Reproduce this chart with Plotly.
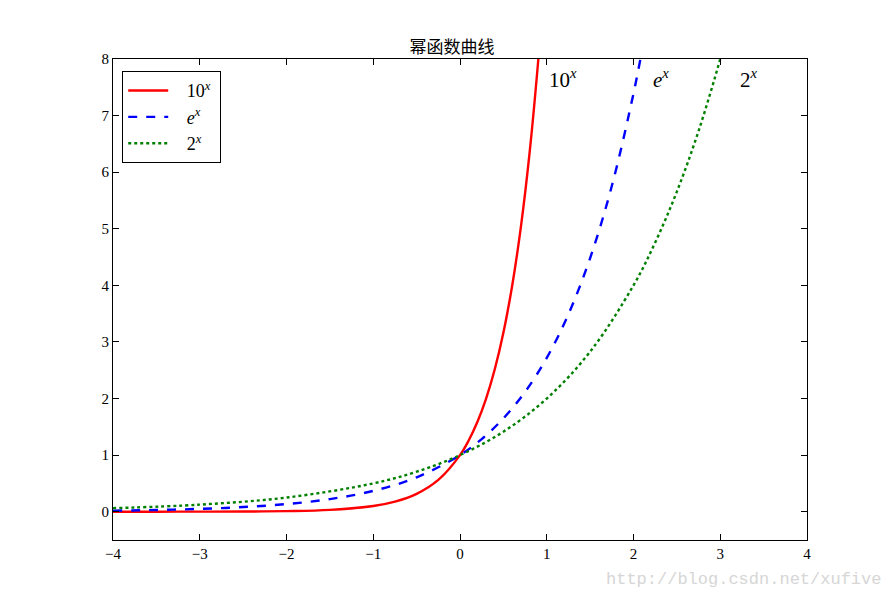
import plotly.graph_objects as go

# Values
x_10 = [-4, -3.5, -3, -2.5, -2, -1.5, -1, -0.75, -0.5, -0.25, 0, 0.1, 0.2, 0.3, 0.4, 0.5, 0.6, 0.7, 0.8, 0.9, 0.95]
y_10 = [0.0001, 0.0003, 0.001, 0.003, 0.01, 0.032, 0.1, 0.178, 0.316, 0.562, 1, 1.259, 1.585, 1.995, 2.512, 3.162, 3.981, 5.012, 6.310, 7.943, 8.913]

x_e = [-4, -3.5, -3, -2.5, -2, -1.5, -1, -0.5, 0, 0.25, 0.5, 0.75, 1, 1.25, 1.5, 1.75, 2, 2.1]
y_e = [0.018, 0.030, 0.050, 0.082, 0.135, 0.223, 0.368, 0.607, 1, 1.284, 1.649, 2.117, 2.718, 3.490, 4.482, 5.755, 7.389, 8.166]

x_2 = [-4, -3, -2, -1, -0.5, 0, 0.5, 1, 1.5, 2, 2.25, 2.5, 2.75, 3, 3.1]
y_2 = [0.0625, 0.125, 0.25, 0.5, 0.707, 1, 1.414, 2, 2.828, 4, 4.757, 5.657, 6.727, 8, 8.574]

series_names = ["10<sup><i>x</i></sup>", "<i>e</i><sup><i>x</i></sup>", "2<sup><i>x</i></sup>"]
label_x = [1.0, 2.2, 3.2]
label_y = [7.65, 7.65, 7.65]

title = "幂函数曲线"
watermark = "http://blog.csdn.net/xufive"

SERIF = "Liberation Serif, DejaVu Serif, serif"
PAD = "&nbsp;&nbsp;&nbsp;"

fig = go.Figure()
fig.add_trace(go.Scatter(x=x_10, y=y_10, mode="lines", name=PAD + series_names[0] + "&nbsp;",
                         line=dict(color="#ff0000", width=2.4, shape="spline")))
fig.add_trace(go.Scatter(x=x_e, y=y_e, mode="lines", name=PAD + series_names[1],
                         line=dict(color="#0000ff", width=2.4, dash="dash", shape="spline")))
fig.add_trace(go.Scatter(x=x_2, y=y_2, mode="lines", name=PAD + series_names[2],
                         line=dict(color="#008000", width=2.4, dash="dot", shape="spline")))

for name, lx, ly in zip(series_names, label_x, label_y):
    fig.add_annotation(x=lx, y=ly, text=name, showarrow=False, xanchor="left", yanchor="middle",
                       font=dict(family=SERIF, size=21, color="black"))

fig.add_annotation(x=1.0, y=0.0, xref="paper", yref="paper", xanchor="right", yanchor="top",
                   xshift=76, yshift=-28, text=watermark, showarrow=False,
                   font=dict(family="Liberation Mono, DejaVu Sans Mono, monospace", size=17, color="#d6d6d6"))

axis_common = dict(showline=True, linecolor="black", linewidth=1.2, mirror="allticks",
                   ticks="inside", ticklen=6, tickcolor="black", showgrid=False, zeroline=False,
                   tickfont=dict(family=SERIF, size=15, color="black"))

fig.update_layout(
    width=888, height=592,
    margin=dict(l=105, r=89, t=51, b=60),
    paper_bgcolor="white", plot_bgcolor="white",
    title=dict(text=title, x=0.5, xanchor="center", y=1 - 39 / 592, yanchor="middle",
               font=dict(family="Noto Sans CJK SC", size=17, color="black")),
    xaxis=dict(range=[-4, 4], dtick=1, **axis_common),
    yaxis=dict(range=[-0.5, 8], dtick=1, **axis_common),
    legend=dict(x=0.013, y=0.975, xanchor="left", yanchor="top", bgcolor="white",
                bordercolor="black", borderwidth=1.2,
                font=dict(family=SERIF, size=18, color="black"), itemwidth=40, tracegroupgap=0),
    showlegend=True,
)

fig.write_html("out.html")
